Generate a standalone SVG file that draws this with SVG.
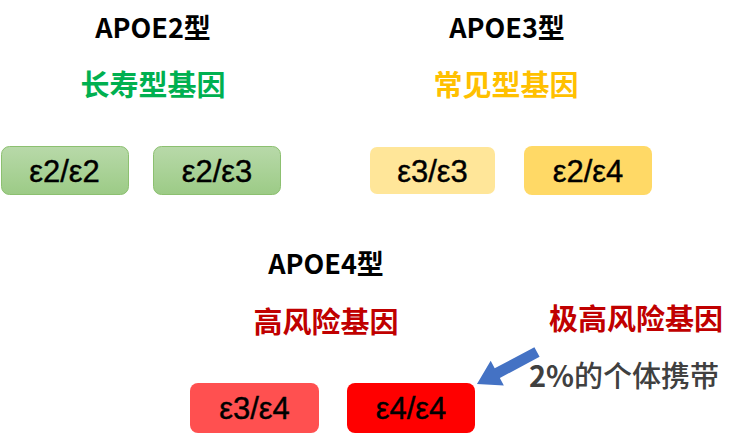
<svg xmlns="http://www.w3.org/2000/svg" width="744" height="444" viewBox="0 0 744 444">
<defs>
<linearGradient id="gGreen" x1="0" y1="0" x2="0" y2="1">
<stop offset="0" stop-color="#b8d9a9"/>
<stop offset="1" stop-color="#9ccb86"/>
</linearGradient>
<style>
.box{stroke-width:1}
.green{fill:url(#gGreen);stroke:#8cc070}
.yl{fill:#ffe699;stroke:none}
.yd{fill:#ffd966;stroke:none}
.rl{fill:#ff5050;stroke:none}
.rd{fill:#ff0000;stroke:none}
.lbl{font-family:"Liberation Sans","Noto Sans CJK SC",sans-serif;font-size:31px;fill:#000;text-anchor:middle;stroke:#000;stroke-width:0.4}
.title{font-family:"Noto Sans CJK SC","Liberation Sans",sans-serif;font-weight:bold;font-size:27px;fill:#000;text-anchor:middle}
.cn{font-family:"Noto Sans CJK SC",sans-serif;font-weight:bold;font-size:29px;text-anchor:middle}
.med{font-weight:500}
</style>
</defs>
<g id="apoe2">
<text class="title" x="153" y="38">APOE2型</text>
<text class="cn" x="153" y="96" fill="#00b050">长寿型基因</text>
</g>
<g id="apoe3">
<text class="title" x="507" y="38">APOE3型</text>
<text class="cn" x="506" y="96" fill="#ffc000">常见型基因</text>
</g>
<g id="apoe4">
<text class="title" x="326" y="274">APOE4型</text>
<text class="cn" x="326" y="333" fill="#c00000">高风险基因</text>
</g>
<g id="e2e2"><rect class="box green" x="1.5" y="146.5" width="127" height="48" rx="8"/><text class="lbl" x="64.5" y="182">ε2/ε2</text></g>
<g id="e2e3"><rect class="box green" x="153.5" y="146.5" width="127" height="48" rx="8"/><text class="lbl" x="217" y="182">ε2/ε3</text></g>
<g id="e3e3"><rect class="box yl" x="370" y="147" width="125" height="47" rx="7"/><text class="lbl" x="432.5" y="182">ε3/ε3</text></g>
<g id="e2e4"><rect class="box yd" x="524" y="146" width="128" height="49" rx="8"/><text class="lbl" x="588" y="182">ε2/ε4</text></g>
<g id="e3e4"><rect class="box rl" x="190" y="383" width="129" height="50" rx="8"/><text class="lbl" x="254.5" y="419">ε3/ε4</text></g>
<g id="e4e4"><rect class="box rd" x="347" y="383" width="128" height="50" rx="8"/><text class="lbl" x="411" y="419">ε4/ε4</text></g>
<g id="note">
<text class="cn" x="636" y="330" fill="#c00000">极高风险基因</text>
<text class="cn" x="624" y="387" fill="#404040">2%<tspan class="med">的个体携带</tspan></text>
</g>
<g id="connectors">
<polygon points="0,-5.5 45,-5.5 45,-14 68,0 45,14 45,5.5 0,5.5" fill="#4472c4" transform="translate(537,352) rotate(152)"/>
</g>
</svg>
